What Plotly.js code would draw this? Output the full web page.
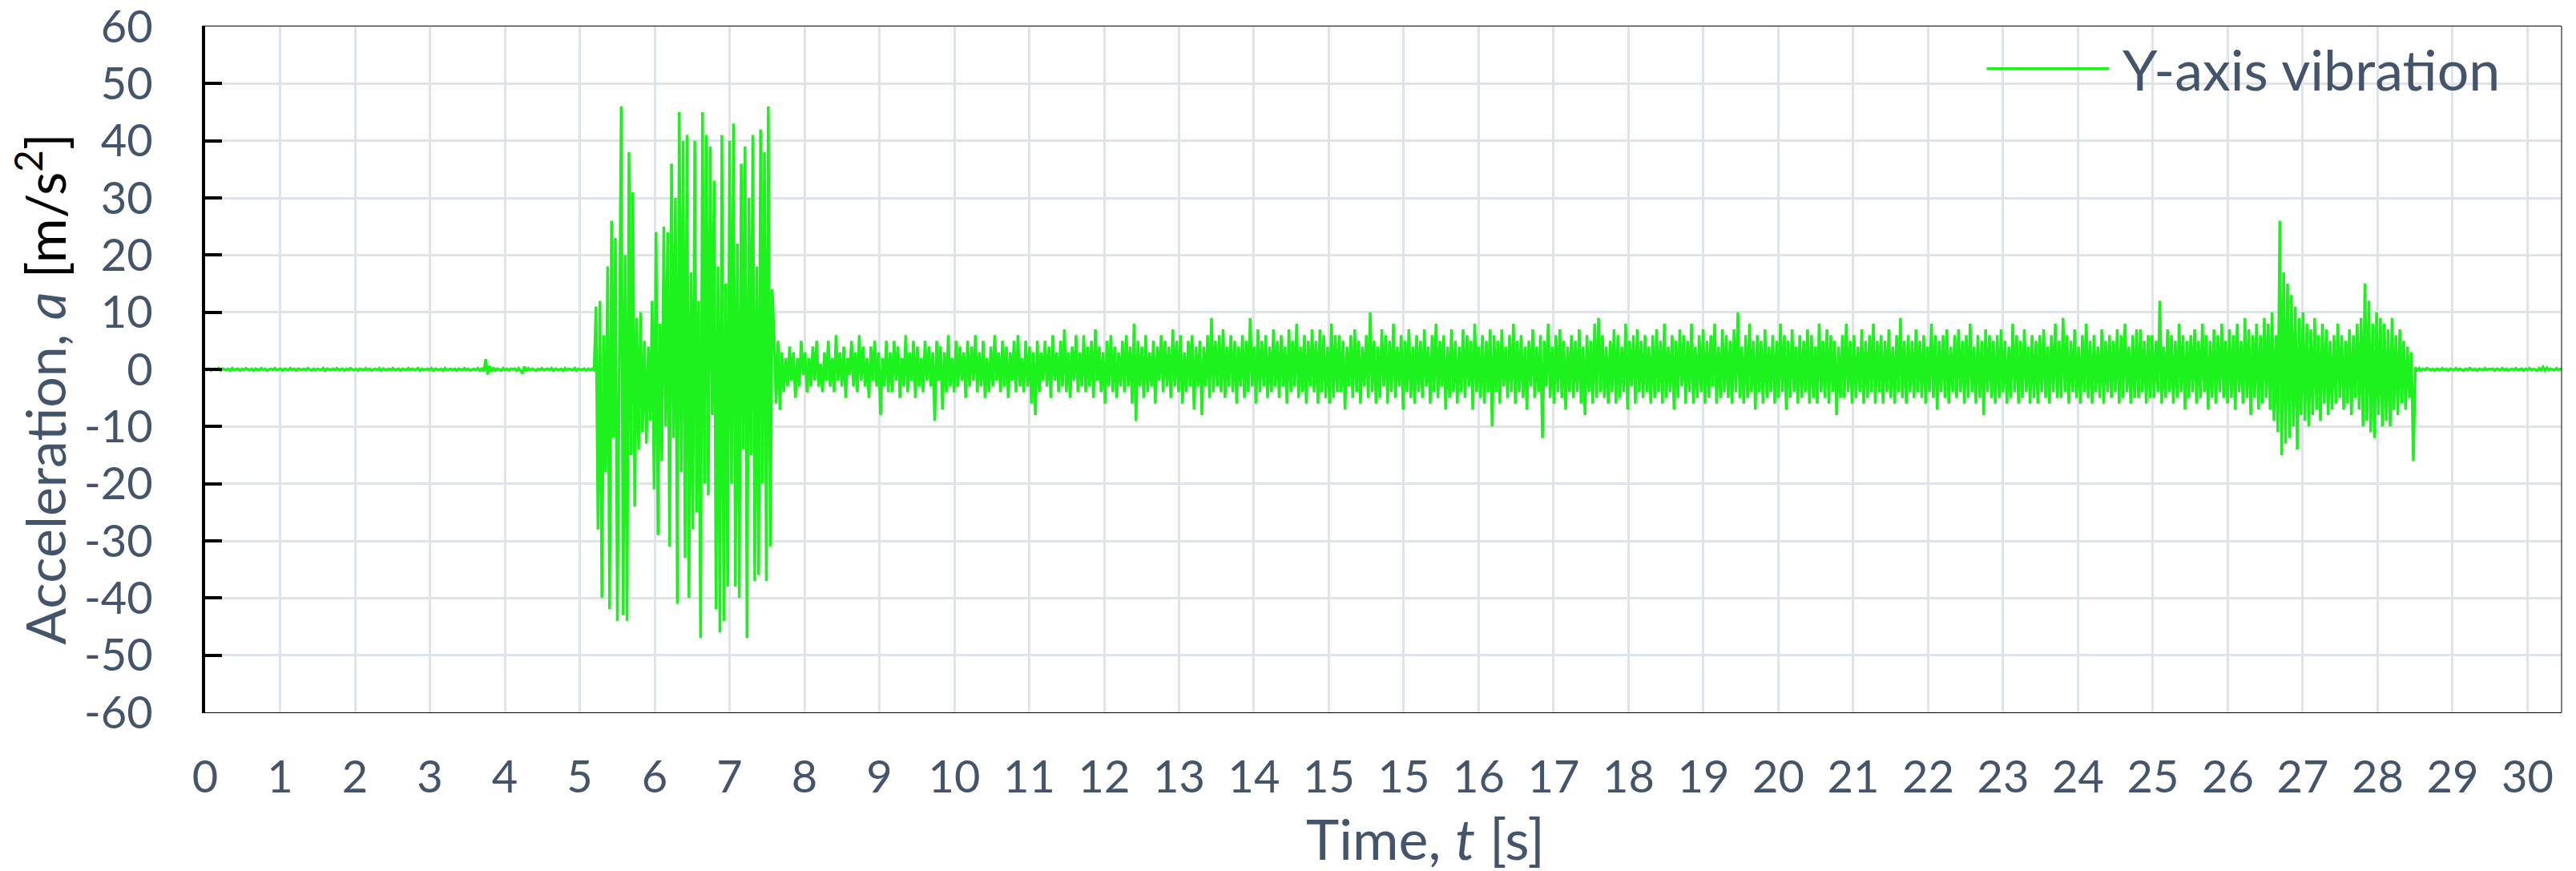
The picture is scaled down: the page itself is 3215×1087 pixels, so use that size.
<!DOCTYPE html>
<html>
<head>
<meta charset="utf-8">
<script src="https://cdn.plot.ly/plotly-3.0.1.min.js"></script>
<style>html,body{margin:0;padding:0;background:#fff;}</style>
</head>
<body>
<div id="chart" style="width:3215px;height:1087px;"></div>
<script>
// Sampling of the recorded signal
const startTime = 0;      // s
const sampleStep = 0.025; // s

// Time axis as drawn in the original: one gridline every 30/31 s, labels rounded to whole seconds
const xRange = [0, 30.44];
const xGridStep = 30 / 31;

// 0 - 5.05 s : idle
const quietStart = [
0.2,-0.1,0.1,-0.2,0,0.1,-0.1,0.2,-0.2,0.1,0,-0.1,0.1,-0.2,0.2,-0.1,0,0.1,-0.2,0.1,
-0.1,0.2,0,-0.1,0.1,-0.2,0.1,0,-0.1,0.2,-0.1,0.1,-0.2,0,0.1,-0.1,0.2,-0.1,0,0.1,
-0.2,0.1,0,-0.1,0.2,-0.1,0.1,-0.2,0.1,0,-0.1,0.1,-0.1,0.2,0,-0.2,0.1,-0.1,0.1,0,
-0.1,0.2,-0.2,0.1,0,-0.1,0.1,-0.1,0.2,-0.1,0,0.1,-0.2,0.1,-0.1,0.2,0,-0.1,0.1,-0.2,
0.1,0,-0.1,0.2,-0.1,0.1,-0.2,0,0.1,-0.1,0.2,-0.2,0.1,0,-0.1,0.1,-0.1,0.2,-0.1,0,
0.1,-0.2,0.1,0,-0.1,0.2,-0.1,0.1,-0.1,0,0.2,-0.2,0.1,-0.1,0,0.1,-0.1,0.2,-0.2,0.1,
0,-0.1,0.1,-0.2,0.2,-0.1,0,0.1,-0.1,0.1,-0.2,0.1,0,-0.1,0.2,-0.1,0.1,-0.2,0,0.1,
-0.1,0.2,-0.2,0.1,-0.3,1.8,-0.9,0.6,-0.4,0.3,-0.2,0.1,0,-0.2,0.2,-0.1,0.1,-0.2,0.1,0,
0.1,-0.2,0.2,-0.3,-0.7,0.5,-0.3,0.2,-0.1,0.1,0,-0.2,0.1,-0.1,0.2,-0.1,0,0.1,-0.1,0.2,
-0.2,0.1,0,-0.1,0.1,-0.2,0.2,-0.1,0.1,0,-0.1,0.2,-0.2,0.1,-0.1,0,0.1,-0.2,0.1,-0.1,
0.1,-0.1
];

// 5.05 - 7.35 s : start-up shocks
const burstStart = [
11,-28,12,-40,6,-18,18,-42,26,-12,
23,-44,8,46,-43,20,-44,38,-15,31,
-24,9,-14,10,-11,5,-13,4,
-9,12,-21,24,-29,8,-16,25,-10,24,
-31,36,-12,30,-41,45,-18,40,
-33,41,-40,17,-28,40,-25,12,-47,45,
-20,41,-22,39,-8,33,-42,18,-46,41,
-44,15,-38,40,-20,43,-38,22,-40,36,
-14,39,-47,30,-15,41,-37,18,-36,42,
-20,38,-37,46,-31,14
];

// 7.35 - 26.65 s : steady running
const steady = [
6,-6,5,-7,3,-4,2,-3,4,-2,3,-5,2,-3,5,-1,3,-4,2,-3,
4,-2,5,-3,1,-4,3,-2,5,-3,2,-4,6,-2,3,-3,4,-5,2,-1,
5,-3,3,-4,6,-2,4,-3,2,-5,4,-2,5,-3,3,-8,2,-3,5,-4,
3,-4,5,-2,4,-5,2,-3,6,-4,3,-2,5,-5,4,-3,2,-4,5,-2,
4,-3,3,-9,5,-2,4,-7,3,-4,6,-3,2,-4,5,-3,4,-2,3,-5,
5,-3,4,-2,6,-4,3,-3,5,-5,2,-4,4,-3,6,-2,3,-4,5,-3,
4,-5,3,-2,5,-4,6,-3,2,-4,5,-3,4,-6,3,-8,5,-4,3,-2,
5,-3,4,-5,6,-2,3,-4,5,-3,7,-4,3,-5,4,-2,6,-4,3,-3,
6,-4,4,-3,5,-5,7,-2,4,-4,3,-6,5,-3,6,-4,4,-5,3,-3,
5,-4,6,-3,4,-6,8,-9,5,-3,4,-5,6,-4,3,-3,5,-6,4,-2,
6,-4,5,-3,4,-5,7,-3,5,-4,6,-6,3,-4,5,-3,6,-7,4,-3,
5,-8,4,-3,6,-5,9,-4,5,-3,6,-4,7,-5,4,-3,6,-4,5,-6,
4,-3,6,-5,5,-4,9,-3,4,-6,7,-4,5,-3,6,-5,4,-4,7,-3,
5,-5,6,-3,4,-6,7,-4,5,-3,8,-5,4,-4,6,-6,5,-3,7,-4,
5,-6,7,-4,6,-5,4,-6,8,-5,6,-4,
6,-4,5,-7,4,-3,6,-5,7,-4,5,-6,4,-3,6,-5,10,-4,5,-6,
4,-5,7,-3,6,-6,5,-4,8,-5,4,-3,6,-7,5,-4,7,-5,4,-6,
6,-4,5,-5,7,-3,4,-6,6,-4,8,-5,5,-3,6,-7,4,-5,7,-4,
5,-6,4,-4,7,-5,6,-3,5,-7,8,-4,4,-5,6,-6,5,-4,7,-10,
6,-4,5,-6,7,-3,4,-5,6,-4,8,-6,5,-4,6,-5,4,-7,5,-3,
7,-5,4,-4,6,-12,5,-3,8,-5,4,-6,6,-4,7,-5,5,-7,4,-4,
6,-5,5,-4,7,-6,4,-8,6,-4,5,-6,8,-5,9,-4,6,-5,4,-6,
5,-4,7,-6,6,-5,4,-4,8,-7,5,-3,6,-6,7,-4,5,-5,6,-4,
4,-6,6,-5,7,-4,5,-6,8,-5,4,-4,6,-7,5,-5,7,-3,6,-6,
5,-4,8,-6,4,-5,6,-4,7,-6,5,-5,6,-3,8,-6,4,-5,7,-4,
6,-5,5,-6,7,-4,10,-5,4,-6,6,-5,8,-4,5,-7,6,-4,5,-6,
7,-5,4,-4,6,-6,5,-5,8,-4,6,-7,5,-5,7,-4,4,-6,6,-5,
5,-4,7,-6,6,-5,4,-6,8,-4,5,-5,7,-6,6,-4,5,-8,4,-5,
6,-5,8,-4,5,-6,6,-5,4,-4,7,-6,5,-5,6,-4,8,-6,5,-4,
6,-6,5,-4,7,-5,4,-6,6,-4,9,-5,5,-6,6,-4,5,-5,7,-4,
5,-5,6,-6,4,-4,8,-5,6,-7,5,-4,6,-5,7,-6,4,-4,6,-5,
7,-4,5,-6,6,-5,8,-4,4,-6,6,-5,5,-8,7,-4,6,-5,5,-6,
6,-5,7,-4,5,-6,4,-5,8,-4,6,-6,5,-5,7,-4,4,-6,6,-5,
5,-6,6,-4,7,-5,4,-6,6,-4,8,-5,5,-5,9,-4,6,-6,5,-4,
7,-5,4,-6,6,-4,8,-5,5,-6,6,-4,4,-5,7,-6,5,-4,6,-5,
5,-4,7,-6,6,-5,8,-4,4,-6,6,-5,7,-5,7,-4,5,-6,6,-5,
6,-5,5,-4,12,-6,4,-5,7,-4,6,-6,5,-5,8,-4,6,-7,5,-5,
6,-4,7,-6,5,-5,8,-4,6,-7,5,-5,7,-6,6,-4,8,-5,5,-6,
7,-5,6,-7,8,-4,5,-6,9,-5,7,-8,6,-5,8,-7,6,-6,9,-5
];

// 26.65 - 28.55 s : braking shocks
const burstEnd = [
8,-7,10,-9,6,-11,26,-15,17,-13,15,-12,13,-10,11,-14,9,-8,10,-9,
8,-10,7,-8,9,-7,6,-9,8,-6,7,-8,5,-7,6,-6,8,-5,6,-7,
5,-6,7,-8,6,-5,8,-7,9,-10,15,-9,12,-11,8,-12,10,-8,9,-10,
8,-9,7,-10,9,-7,6,-8,7,-6,5,-7,4,-5,3,-16
];

// 28.55 - 30.44 s : idle
const quietEnd = [
0.4,-0.3,0.2,-0.2,0.1,-0.1,0.2,0,-0.1,0.1,-0.2,0.1,0,-0.1,0.2,-0.1,0.1,-0.2,0.1,0,
-0.1,0.2,-0.1,0.1,0,-0.2,0.1,-0.1,0.2,0,-0.1,0.1,-0.2,0.1,0,-0.1,0.2,-0.1,0.1,0,
0.1,-0.2,0.1,0,-0.1,0.2,-0.1,0.1,-0.2,0,0.1,-0.1,0.2,-0.1,0,0.1,-0.2,0.1,-0.1,0.2,
-0.1,0.1,0,-0.2,0.2,-0.1,0.4,-0.2,0.3,-0.1,0.1,0,-0.1,0.2,-0.1,0.1,0,-0.1
];

const yTickVals = [-60,-50,-40,-30,-20,-10,0,10,20,30,40,50,60];
const yTickText = ['-60','-50','-40','-30','-20','-10','0','10','20','30','40','50','60'];
const seriesName = 'Y-axis vibration';
const xTitle = 'Time, <i>t</i> [s]';
const yTitle = 'Acceleration, <i>a</i> <span style="color:#000000">[m/s<sup>2</sup>]</span>';

const acceleration = [].concat(quietStart, burstStart, steady, burstEnd, quietEnd);

const textColor = '#44546A';
const gridColor = '#DFE3EA';
const lineColor = '#1EF21E';

const trace = {
  type: 'scatter',
  mode: 'lines',
  name: seriesName,
  x0: startTime,
  dx: sampleStep,
  y: acceleration,
  line: {color: lineColor, width: 3.5},
  showlegend: false
};

const layout = {
  width: 3215,
  height: 1087,
  margin: {l: 256, r: 18, t: 33, b: 198},
  paper_bgcolor: '#ffffff',
  plot_bgcolor: '#ffffff',
  font: {family: 'Lato, "Open Sans", sans-serif', color: textColor, size: 56},
  showlegend: false,
  xaxis: {
    range: xRange,
    tickmode: 'linear',
    tick0: 0, dtick: xGridStep,
    tickformat: '.0f',
    showgrid: true, gridcolor: gridColor, gridwidth: 3,
    zeroline: false,
    showline: true, linecolor: '#000000', linewidth: 1, mirror: true,
    ticks: '',
    ticklabelstandoff: 32,
    ticklabeloverflow: 'allow',
    tickfont: {size: 56, color: textColor}
  },
  yaxis: {
    range: [-60, 60],
    tickvals: yTickVals,
    ticktext: yTickText,
    showgrid: true, gridcolor: gridColor, gridwidth: 3,
    zeroline: false,
    showline: true, linecolor: '#000000', linewidth: 4,
    ticks: 'inside', ticklen: 21, tickwidth: 4, tickcolor: '#000000',
    ticklabelstandoff: 50,
    ticklabeloverflow: 'allow',
    tickfont: {size: 56, color: textColor}
  },
  shapes: [
    // right border of the plot frame
    {type: 'line', xref: 'paper', yref: 'paper', x0: 1, x1: 1, y0: 0, y1: 1,
     line: {color: '#000000', width: 1}},
    // legend background
    {type: 'rect', xref: 'paper', yref: 'paper', layer: 'between',
     x0: 0.718, x1: 0.998, y0: 0.882, y1: 0.997,
     fillcolor: '#ffffff', line: {width: 0}},
    // legend line sample
    {type: 'line', xref: 'paper', yref: 'paper',
     x0: 0.756, x1: 0.808, y0: 0.9385, y1: 0.9385,
     line: {color: lineColor, width: 3.5}}
  ],
  annotations: [
    {text: seriesName, xref: 'paper', yref: 'paper', x: 0.813, y: 0.9385,
     xanchor: 'left', yanchor: 'middle', showarrow: false,
     font: {size: 70, color: textColor}},
    {text: xTitle, xref: 'paper', yref: 'paper', x: 0.518, y: -0.183,
     xanchor: 'center', yanchor: 'middle', showarrow: false,
     font: {size: 70, color: textColor}},
    {text: yTitle, xref: 'paper', yref: 'paper', x: -0.0697, y: 0.471,
     xanchor: 'center', yanchor: 'middle', textangle: -90, showarrow: false,
     font: {size: 68, color: textColor}}
  ]
};

Plotly.newPlot('chart', [trace], layout, {staticPlot: true, displayModeBar: false});
</script>
</body>
</html>
